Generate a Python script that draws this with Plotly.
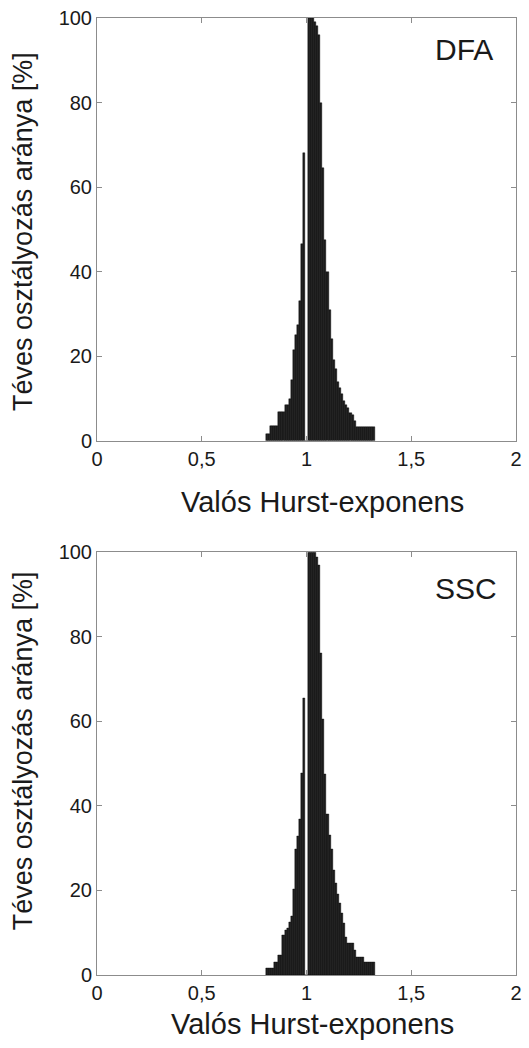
import plotly.graph_objects as go

# Bin centres (Valós Hurst-exponens)
h_centers = [0.81, 0.82, 0.83, 0.84, 0.85, 0.86, 0.87, 0.88, 0.89, 0.90,
             0.91, 0.92, 0.93, 0.94, 0.95, 0.96, 0.97, 0.98, 0.99, 1.00,
             1.01, 1.02, 1.03, 1.04, 1.05, 1.06, 1.07, 1.08, 1.09, 1.10,
             1.11, 1.12, 1.13, 1.14, 1.15, 1.16, 1.17, 1.18, 1.19, 1.20,
             1.21, 1.22, 1.23, 1.24, 1.25, 1.26, 1.27, 1.28, 1.29, 1.30,
             1.31, 1.32]

# Misclassification rate [%] — DFA
dfa_rate = [1.5, 1.5, 3.5, 3.5, 3.5, 3.5, 6.8, 6.8, 6.8, 8.5,
            8.5, 10.0, 14.4, 21.5, 25.0, 27.4, 33.0, 46.6, 68.0, 0.0,
            100, 100, 100, 99.0, 98.0, 96.0, 80.0, 64.6, 47.4, 40.0,
            31.0, 24.0, 19.0, 17.0, 14.0, 12.5, 11.0, 9.5, 8.5, 7.8,
            6.5, 6.0, 4.6, 3.3, 3.3, 3.3, 3.3, 3.3, 3.3, 3.3,
            3.3, 3.3]

# Misclassification rate [%] — SSC
ssc_rate = [1.6, 1.6, 1.6, 1.6, 3.1, 3.1, 4.7, 4.7, 9.4, 10.6,
            11.0, 12.5, 14.0, 20.4, 29.8, 32.9, 36.9, 47.8, 65.5, 0.0,
            100, 100, 100, 100, 98.8, 96.9, 76.0, 60.4, 47.5, 38.0,
            33.0, 29.8, 24.7, 21.6, 19.2, 17.0, 14.5, 12.2, 9.0, 7.6,
            7.6, 7.6, 5.9, 4.3, 4.3, 4.3, 4.3, 3.1, 3.1, 3.1,
            3.1, 3.1]

x_tickvals = [0, 0.5, 1, 1.5, 2]
x_ticktext = ["0", "0,5", "1", "1,5", "2"]
y_tickvals = [0, 20, 40, 60, 80, 100]

panel_labels = ["DFA", "SSC"]
x_title = "Valós Hurst-exponens"
y_title = "Téves osztályozás aránya [%]"

FONT = "Liberation Sans, Arial, sans-serif"
TXT = "#1a1a1a"
AXC = "#8c8c8c"

W, H = 529, 1048
L, R, T, B = 97, 7, 13, 73
PW = W - L - R
PH = H - T - B


def py2paper(py):
    return (H - B - py) / PH


def px2paper(px):
    return (px - L) / PW


top_dom = [py2paper(438), py2paper(13)]
bot_dom = [py2paper(975), py2paper(550)]

fig = go.Figure()
for i, (vals, ax) in enumerate([(dfa_rate, ""), (ssc_rate, "2")]):
    fig.add_trace(go.Bar(
        x=h_centers, y=vals, width=0.01,
        marker=dict(color="#1e1e1e", line=dict(color="#000000", width=0.4)),
        xaxis="x" + ax, yaxis="y" + ax, showlegend=False,
    ))

axis_common = dict(
    showgrid=False, zeroline=False, showline=True, linecolor=AXC, linewidth=1,
    mirror="ticks", ticks="inside", ticklen=5, tickcolor=AXC,
    tickfont=dict(family=FONT, size=20, color=TXT),
)

fig.update_layout(
    width=W, height=H,
    margin=dict(l=L, r=R, t=T, b=B),
    paper_bgcolor="white", plot_bgcolor="white",
    bargap=0,
    xaxis=dict(domain=[0, 1], range=[0, 2], anchor="y",
               tickvals=x_tickvals, ticktext=x_ticktext, **axis_common),
    yaxis=dict(domain=top_dom, range=[0, 100], anchor="x",
               tickvals=y_tickvals, **axis_common),
    xaxis2=dict(domain=[0, 1], range=[0, 2], anchor="y2",
                tickvals=x_tickvals, ticktext=x_ticktext, **axis_common),
    yaxis2=dict(domain=bot_dom, range=[0, 100], anchor="x2",
                tickvals=y_tickvals, **axis_common),
)

annos = []
# x-axis titles
for cx, cy in [(326, 500), (316, 1024)]:
    annos.append(dict(text=x_title, x=px2paper(cx), y=py2paper(cy),
                      xref="paper", yref="paper", xanchor="center", yanchor="middle",
                      showarrow=False, font=dict(family=FONT, size=29, color=TXT)))
# y-axis titles
for cy in [228, 750]:
    annos.append(dict(text=y_title, x=px2paper(22), y=py2paper(cy),
                      xref="paper", yref="paper", xanchor="center", yanchor="middle",
                      textangle=-90, showarrow=False,
                      font=dict(family=FONT, size=27, color=TXT)))
# panel labels
for lab, (cx, cy) in zip(panel_labels, [(469, 45), (471, 586)]):
    annos.append(dict(text=lab, x=px2paper(cx), y=py2paper(cy),
                      xref="paper", yref="paper", xanchor="center", yanchor="middle",
                      showarrow=False, font=dict(family=FONT, size=30, color=TXT)))
fig.update_layout(annotations=annos)

fig.write_html("out.html")
